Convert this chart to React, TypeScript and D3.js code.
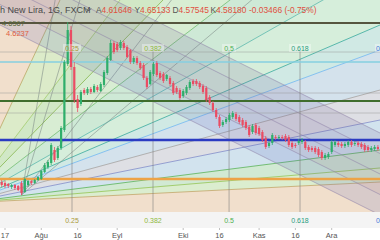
import React from "react";
import * as d3 from "d3";

// Daily bars, first session 16 Jul 2018 (weekdays only)
const opens = [4.1320,4.1287,4.1254,4.1155,4.1221,4.1188,4.1287,4.0990,4.1221,4.1353,4.1287,4.1386,4.1419,4.1650,4.1815,4.1947,4.2376,4.2112,4.2442,4.3036,4.5214,4.6336,4.5115,4.4059,4.3894,4.4356,4.4257,4.4389,4.4290,4.4455,4.4323,4.4521,4.4917,4.5346,4.5907,4.5874,4.5742,4.5907,4.5775,4.5676,4.5280,4.5412,4.5247,4.5181,4.4752,4.4554,4.4884,4.5247,4.4917,4.4884,4.4719,4.4752,4.4587,4.4422,4.4356,4.4158,4.4257,4.4422,4.4653,4.4653,4.4587,4.4488,4.4422,4.4125,4.3927,4.3696,4.3465,4.3201,4.3300,4.3366,4.3465,4.3564,4.3465,4.3366,4.3300,4.3135,4.2970,4.3201,4.3102,4.2970,4.2772,4.2508,4.2607,4.2805,4.2772,4.2805,4.2838,4.2805,4.2607,4.2541,4.2607,4.2640,4.2640,4.2475,4.2442,4.2442,4.2409,4.2310,4.2112,4.2145,4.2310,4.2541,4.2607,4.2574,4.2508,4.2541,4.2640,4.2574,4.2607,4.2574,4.2541,4.2475,4.2376,4.2409,4.2475];
const highs = [4.1386,4.1353,4.1287,4.1254,4.1254,4.1221,4.1353,4.1452,4.1386,4.1386,4.1419,4.1518,4.1716,4.1947,4.2046,4.2607,4.2475,4.2508,4.3168,4.5346,4.6600,4.6468,4.5280,4.4191,4.4356,4.4422,4.4455,4.4455,4.4554,4.4521,4.4620,4.5016,4.5478,4.6006,4.5973,4.5940,4.6006,4.5973,4.5841,4.5709,4.5478,4.5478,4.5313,4.5247,4.4818,4.5016,4.5280,4.5313,4.4983,4.4950,4.4884,4.4818,4.4653,4.4488,4.4422,4.4389,4.4521,4.4686,4.4719,4.4719,4.4653,4.4554,4.4488,4.4191,4.3993,4.3762,4.3531,4.3366,4.3465,4.3597,4.3663,4.3630,4.3531,4.3432,4.3366,4.3201,4.3234,4.3267,4.3168,4.3036,4.2838,4.2673,4.2937,4.2871,4.2871,4.2871,4.2904,4.2871,4.2673,4.2607,4.2739,4.2772,4.2706,4.2541,4.2508,4.2508,4.2475,4.2376,4.2277,4.2310,4.2706,4.2706,4.2673,4.2640,4.2640,4.2706,4.2706,4.2673,4.2673,4.2640,4.2607,4.2541,4.2508,4.2541,4.2541];
const lows = [4.1155,4.1122,4.1122,4.1089,4.1056,4.1023,4.0891,4.0957,4.1155,4.1221,4.1254,4.1353,4.1386,4.1617,4.1749,4.1881,4.1980,4.2046,4.2376,4.2970,4.5148,4.5016,4.3927,4.3630,4.3828,4.4191,4.4191,4.4224,4.4257,4.4290,4.4290,4.4455,4.4851,4.5313,4.5544,4.5610,4.5676,4.5676,4.5412,4.5214,4.5214,4.5181,4.5016,4.4686,4.4389,4.4521,4.4818,4.4785,4.4686,4.4587,4.4653,4.4488,4.4191,4.4224,4.4026,4.4092,4.4191,4.4356,4.4488,4.4488,4.4389,4.4224,4.3960,4.3861,4.3630,4.3399,4.3102,4.3135,4.3234,4.3300,4.3399,4.3333,4.3234,4.3135,4.3036,4.2805,4.2904,4.2871,4.2838,4.2640,4.2409,4.2442,4.2541,4.2706,4.2706,4.2706,4.2640,4.2475,4.2409,4.2442,4.2541,4.2574,4.2376,4.2310,4.2310,4.2244,4.2145,4.2046,4.2046,4.2079,4.2244,4.2475,4.2475,4.2442,4.2442,4.2475,4.2475,4.2508,4.2475,4.2409,4.2310,4.2310,4.2310,4.2343,4.2343];
const closes = [4.1221,4.1188,4.1188,4.1221,4.1122,4.1056,4.0957,4.1419,4.1353,4.1287,4.1386,4.1485,4.1683,4.1881,4.1980,4.2541,4.2046,4.2442,4.3102,4.5280,4.6336,4.5115,4.4026,4.3762,4.4290,4.4257,4.4389,4.4290,4.4488,4.4356,4.4554,4.4950,4.5412,4.5907,4.5610,4.5676,4.5940,4.5742,4.5445,4.5280,4.5412,4.5247,4.5082,4.4752,4.4455,4.4950,4.5214,4.4851,4.4752,4.4653,4.4851,4.4554,4.4257,4.4290,4.4092,4.4323,4.4455,4.4620,4.4554,4.4554,4.4455,4.4290,4.4026,4.3927,4.3696,4.3465,4.3168,4.3300,4.3399,4.3531,4.3597,4.3399,4.3300,4.3201,4.3102,4.2871,4.3168,4.2937,4.2904,4.2706,4.2475,4.2607,4.2871,4.2772,4.2805,4.2772,4.2706,4.2541,4.2475,4.2508,4.2673,4.2706,4.2442,4.2376,4.2376,4.2310,4.2211,4.2112,4.2211,4.2244,4.2640,4.2640,4.2541,4.2508,4.2574,4.2640,4.2541,4.2607,4.2541,4.2475,4.2376,4.2376,4.2442,4.2475,4.2409];

const FIRST_SESSION = "2018-07-16";
const tickDates = ["2018-07-17","2018-08-01","2018-08-16","2018-09-03","2018-10-01","2018-10-16","2018-11-01","2018-11-16","2018-12-03"];
const tickLabels = ["17","Ağu","16","Eyl","Eki","16","Kas","16","Ara"];

// Horizontal lines
const keyLevelPrices = [4.6567, 4.5280, 4.3993, 4.2706, 4.1419];
const keyLevelColors = ["#56553f", "#86cfe0", "#3f6d2d", "#2b3bc2", "#eda347"];
const keyLevelWidths = [2, 1.5, 2, 2.6, 2.6];
const gridLevelPrices = [4.5610, 4.4257, 4.3597];

// Speed resistance fan
const fanOriginBar = -11.12;
const fanOriginPrice = 4.0627;
const fanRayBars = [17.67, 35.85, 48.88, 69.18, 97.36, 114.64, 114.64, 114.64, 114.64, 114.64, 114.64, 114.64];
const fanRayPrices = [4.7326, 4.7326, 4.7326, 4.7326, 4.7326, 4.6501, 4.5676, 4.4356, 4.3366, 4.2376, 4.1782, 4.1320];
const fanRayColors = ["#b5a35a", "#9ccc65", "#7cb342", "#66bb6a", "#4db6ac", "#26a69a", "#64b5f6", "#9e9e9e", "#7986cb", "#4caf50", "#8bc34a", "#c0a060"];
const fanBandColors = ["#dcebc9", "#d1e8c6", "#d8edd3", "#cee9d6", "#d6eedb", "#d0e9e4", "#d4e2ec", "#dedfe4", "#d2e3ee", "#d1e9d3", "#dbedcf"];

const fanTimeBars = [21.3, 45.85, 68.9, 90.4, 114.0];
const fanTimeLabels = ["0.25", "0.382", "0.5", "0.618", "0"];
const fanTimeColors = ["#a99a3a", "#8fb83e", "#4caf50", "#2a9d7f", "#4a78d8"];

// Secondary fan from the July low
const lowFanBar = 6;
const lowFanPrice = 4.0891;
const lowFanBars = [16.2, 23.7, 32.8, 38.9];
const lowFanPrices = [4.7326, 4.7326, 4.4686, 4.3927];

// Pitchfork channel
const forkBars = [-0.515, 114.64];
const forkPrices = [4.7854, 4.1584];
const forkInner = 0.0677;
const forkOuter = 0.1353;

const ohlcKeys = ["A", "Y", "D", "K"];
const ohlcValues = ["4.61646", "4.65133", "4.57545", "4.58180"];
const changeText = "-0.03466 (-0.75%)";

const W = 380;
const H = 240;
const PLOT_H = 212;
const BAND_H = 228;

function sessions(start: string, count: number): string[] {
  const out: string[] = [];
  const d = new Date(start + "T00:00:00Z");
  while (out.length < count) {
    const wd = d.getUTCDay();
    if (wd !== 0 && wd !== 6) out.push(d.toISOString().slice(0, 10));
    d.setUTCDate(d.getUTCDate() + 1);
  }
  return out;
}

export default function App() {
  const days = sessions(FIRST_SESSION, opens.length);
  const x = d3.scaleLinear().domain([1, 100]).range([5, 331.7]);
  const y = d3.scaleLinear().domain([4.033, 4.7326]).range([PLOT_H, 0]);
  const font = "'Liberation Sans', Arial, sans-serif";

  // fan geometry
  const ox = x(fanOriginBar), oy = y(fanOriginPrice);
  const rays = fanRayBars.map((b, i) => {
    const dx = x(b) - ox, dy = y(fanRayPrices[i]) - oy;
    const k = 2000 / Math.hypot(dx, dy);
    return [ox + dx * k, oy + dy * k];
  });
  const wedges = fanBandColors.map((c, i) => {
    const a = rays[i], b = rays[i + 1];
    return <path key={"w" + i} d={`M${ox},${oy}L${a[0]},${a[1]}L${b[0]},${b[1]}Z`} fill={c} />;
  });

  const lx = x(lowFanBar), ly = y(lowFanPrice);
  const lowRays = lowFanBars.map((b, i) => {
    const dx = x(b) - lx, dy = y(lowFanPrices[i]) - ly;
    const k = 2000 / Math.hypot(dx, dy);
    return [lx + dx * k, ly + dy * k];
  });

  // pitchfork bands
  const forkLine = (off: number) => {
    const x0 = x(forkBars[0]), x1 = x(forkBars[1]);
    const y0 = y(forkPrices[0] + off), y1 = y(forkPrices[1] + off);
    const s = (y1 - y0) / (x1 - x0);
    const ax = -50, bx = 450;
    return [[ax, y0 + s * (ax - x0)], [bx, y0 + s * (bx - x0)]];
  };
  const band = (a: number, b: number) => {
    const p = forkLine(a), q = forkLine(b);
    return `M${p[0][0]},${p[0][1]}L${p[1][0]},${p[1][1]}L${q[1][0]},${q[1][1]}L${q[0][0]},${q[0][1]}Z`;
  };

  const bodyW = 2.2;
  const ohlcX = [96, 134.5, 172.5, 210.5];

  return (
    <svg width={W} height={H} style={{ position: "fixed", left: 0, top: 0, fontFamily: font }}>
      <defs>
        <clipPath id="plotArea">
          <rect x={0} y={0} width={W} height={PLOT_H} />
        </clipPath>
      </defs>
      <g clipPath="url(#plotArea)">
        <rect x={0} y={0} width={W} height={PLOT_H} fill="#f1dfcc" />
        {wedges}
        {rays.map((r, i) => (
          <line key={"r" + i} x1={ox} y1={oy} x2={r[0]} y2={r[1]} stroke={fanRayColors[i]} strokeWidth={0.9} opacity={0.8} />
        ))}
        {lowRays.map((r, i) => (
          <line key={"lr" + i} x1={lx} y1={ly} x2={r[0]} y2={r[1]} stroke="#7d8a86" strokeWidth={0.8} opacity={0.7} />
        ))}

        {/* pitchfork */}
        <path d={band(-forkInner, forkInner)} fill="rgb(112,92,150)" opacity={0.2} />
        <path d={band(forkInner, forkOuter)} fill="rgb(110,95,150)" opacity={0.16} />
        <path d={band(-forkOuter, -forkInner)} fill="rgb(90,100,190)" opacity={0.16} />
        {[-forkOuter, -forkInner, 0, forkInner, forkOuter].map((o, i) => {
          const l = forkLine(o);
          return <line key={"f" + i} x1={l[0][0]} y1={l[0][1]} x2={l[1][0]} y2={l[1][1]} stroke="#8f82a8" strokeWidth={0.8} opacity={0.7} />;
        })}

        {gridLevelPrices.map((p, i) => (
          <line key={"g" + i} x1={0} x2={W} y1={y(p)} y2={y(p)} stroke="#9a9a9a" strokeWidth={0.8} opacity={0.6} />
        ))}
        {fanTimeBars.slice(0, 4).map((b, i) => (
          <line key={"v" + i} x1={x(b)} x2={x(b)} y1={51} y2={PLOT_H} stroke="#7b7b7b" strokeWidth={0.8} opacity={0.7} />
        ))}
        {keyLevelPrices.map((p, i) => (
          <line key={"k" + i} x1={0} x2={W} y1={y(p)} y2={y(p)} stroke={keyLevelColors[i]} strokeWidth={keyLevelWidths[i]} />
        ))}

        {/* candles */}
        {opens.map((o, i) => {
          const c = closes[i];
          const up = c >= o;
          const col = up ? "#2fae6b" : "#ea4c63";
          const cx = x(i);
          const top = y(Math.max(o, c));
          const h = Math.max(1, Math.abs(y(o) - y(c)));
          return (
            <g key={"c" + i}>
              <line x1={cx} x2={cx} y1={y(highs[i])} y2={y(lows[i])} stroke={col} strokeWidth={0.8} />
              <rect x={cx - bodyW / 2} y={top} width={bodyW} height={h} fill={col} />
            </g>
          );
        })}

        {/* fan time labels (top) */}
        {fanTimeLabels.map((t, i) => (
          <g key={"tl" + i}>
            <rect x={x(fanTimeBars[i]) - t.length * 2 - 1} y={44} width={t.length * 4 + 2} height={8} fill="#ffffff" opacity={0.35} />
            <text x={x(fanTimeBars[i])} y={50.5} fontSize={7} textAnchor="middle" fill={fanTimeColors[i]}>{t}</text>
          </g>
        ))}

        {/* price labels */}
        <text x={2} y={25.5} fontSize={7.5} fill="#5b6a3a">{keyLevelPrices[0].toFixed(4)}</text>
        <text x={6} y={36} fontSize={7.5} fill="#e0603f">4.6237</text>

        {/* header */}
        <text x={0} y={12.5} fontSize={9} fill="#4a4a4a">h New Lira, 1G, FXCM</text>
        <path d="M86,8.5 L88.5,11 L91,8.5" fill="none" stroke="#4a4a4a" strokeWidth={0.9} />
        {ohlcKeys.map((k, i) => (
          <text key={"h" + i} x={ohlcX[i]} y={12.5} fontSize={8.4}>
            <tspan fill="#555">{k}</tspan>
            <tspan fill="#e0503f">{ohlcValues[i]}</tspan>
          </text>
        ))}
        <text x={249} y={12.5} fontSize={8.4} fill="#e0503f">{changeText}</text>
      </g>

      {/* fan label strip and time axis */}
      <rect x={0} y={PLOT_H} width={W} height={BAND_H - PLOT_H} fill="#f4f4f4" />
      <rect x={0} y={BAND_H} width={W} height={H - BAND_H} fill="#ffffff" />
      {fanTimeLabels.map((t, i) => (
        <text key={"bl" + i} x={x(fanTimeBars[i])} y={222.5} fontSize={7} textAnchor="middle" fill={fanTimeColors[i]}>{t}</text>
      ))}
      {tickDates.map((d, i) => {
        const idx = days.indexOf(d);
        const tx = x(idx);
        return (
          <g key={"t" + i}>
            <line x1={tx} x2={tx} y1={BAND_H} y2={BAND_H + 2} stroke="#b0b0b0" strokeWidth={0.8} />
            <text x={tx} y={237.5} fontSize={7.5} textAnchor="middle" fill="#555">{tickLabels[i]}</text>
          </g>
        );
      })}
    </svg>
  );
}
